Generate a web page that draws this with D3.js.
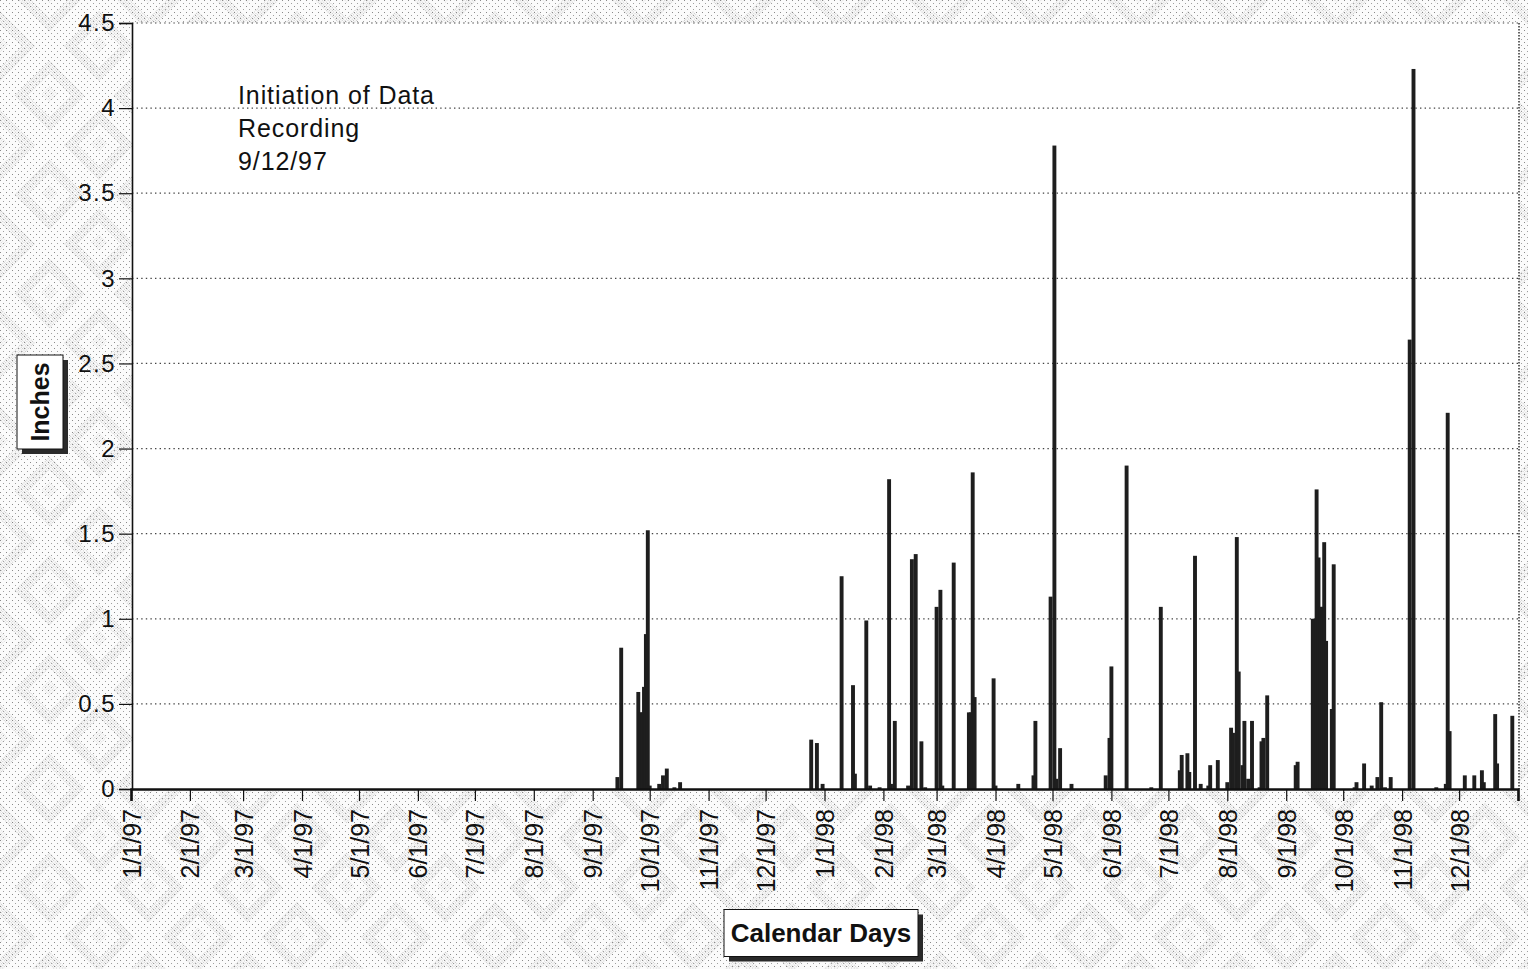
<!DOCTYPE html>
<html>
<head>
<meta charset="utf-8">
<script src="https://cdn.jsdelivr.net/npm/d3@7"></script>
<style>
  html, body { margin: 0; padding: 0; background: #fff; }
  svg { display: block; }
  text { font-family: "Liberation Sans", Arial, Helvetica, sans-serif; fill: #111; }
</style>
</head>
<body>
<svg id="chart" width="1528" height="969"></svg>
<script>
// ---------------- data ----------------
const dates = [
  "1997-09-14","1997-09-16","1997-09-25","1997-09-26","1997-09-27","1997-09-28","1997-09-29","1997-09-30",
  "1997-10-01","1997-10-06","1997-10-08","1997-10-10","1997-10-14","1997-10-17",
  "1997-12-25","1997-12-28","1997-12-31",
  "1998-01-10","1998-01-16","1998-01-17","1998-01-23","1998-01-25","1998-01-30",
  "1998-02-04","1998-02-05","1998-02-07","1998-02-14","1998-02-16","1998-02-18","1998-02-21","1998-02-23",
  "1998-03-01","1998-03-03","1998-03-04","1998-03-10","1998-03-18","1998-03-19","1998-03-20","1998-03-21","1998-03-31",
  "1998-04-01","1998-04-13","1998-04-21","1998-04-22","1998-04-30",
  "1998-05-02","1998-05-03","1998-05-05","1998-05-11","1998-05-29","1998-05-31",
  "1998-06-01","1998-06-09","1998-06-22","1998-06-27",
  "1998-07-07","1998-07-08","1998-07-11","1998-07-12","1998-07-15","1998-07-18","1998-07-22","1998-07-23","1998-07-27",
  "1998-08-01","1998-08-03","1998-08-04","1998-08-06","1998-08-07","1998-08-09","1998-08-10","1998-08-12","1998-08-14",
  "1998-08-18","1998-08-19","1998-08-20","1998-08-22",
  "1998-09-06","1998-09-07","1998-09-15","1998-09-16","1998-09-17","1998-09-18","1998-09-19","1998-09-20","1998-09-21",
  "1998-09-22","1998-09-25","1998-09-26",
  "1998-10-07","1998-10-08","1998-10-12","1998-10-16","1998-10-19","1998-10-21","1998-10-23","1998-10-26",
  "1998-11-05","1998-11-07","1998-11-19","1998-11-24","1998-11-25","1998-11-26",
  "1998-12-04","1998-12-09","1998-12-13","1998-12-14","1998-12-20","1998-12-21","1998-12-29"
];
const inches = [
  0.07,0.83,0.57,0.45,0.45,0.60,0.91,1.52,
  0.02,0.03,0.08,0.12,0.01,0.04,
  0.29,0.27,0.03,
  1.25,0.61,0.09,0.99,0.02,0.01,
  1.82,0.03,0.40,0.02,1.35,1.38,0.28,0.01,
  1.07,1.17,0.02,1.33,0.45,0.45,1.86,0.54,0.65,
  0.02,0.03,0.08,0.40,1.13,
  3.78,0.06,0.24,0.03,0.08,0.30,
  0.72,1.90,0.01,1.07,
  0.11,0.20,0.21,0.10,1.37,0.03,0.02,0.14,0.17,
  0.04,0.36,0.33,1.48,0.69,0.14,0.40,0.06,0.40,
  0.01,0.28,0.30,0.55,
  0.14,0.16,1.00,1.00,1.76,1.36,1.07,1.07,1.45,
  0.87,0.47,1.32,
  0.01,0.04,0.15,0.02,0.07,0.51,0.01,0.07,
  2.64,4.23,0.01,0.03,2.21,0.34,
  0.08,0.08,0.11,0.04,0.44,0.15,0.43
];
const monthTicks = [
  "1997-01-01","1997-02-01","1997-03-01","1997-04-01","1997-05-01","1997-06-01",
  "1997-07-01","1997-08-01","1997-09-01","1997-10-01","1997-11-01","1997-12-01",
  "1998-01-01","1998-02-01","1998-03-01","1998-04-01","1998-05-01","1998-06-01",
  "1998-07-01","1998-08-01","1998-09-01","1998-10-01","1998-11-01","1998-12-01","1999-01-01"
];
const tickLabels = [
  "1/1/97","2/1/97","3/1/97","4/1/97","5/1/97","6/1/97","7/1/97","8/1/97","9/1/97",
  "10/1/97","11/1/97","12/1/97","1/1/98","2/1/98","3/1/98","4/1/98","5/1/98","6/1/98",
  "7/1/98","8/1/98","9/1/98","10/1/98","11/1/98","12/1/98",""
];
const yTicks = [0, 0.5, 1, 1.5, 2, 2.5, 3, 3.5, 4, 4.5];
const yTickLabels = ["0","0.5","1","1.5","2","2.5","3","3.5","4","4.5"];
const noteLines = ["Initiation of Data", "Recording", "9/12/97"];
const yTitle = "Inches";
const xTitle = "Calendar Days";

// ---------------- layout ----------------
const parse = d3.timeParse("%Y-%m-%d");
const svg = d3.select("#chart");
const W = 1528, H = 969;
const plot = { left: 132, right: 1519, top: 23, bottom: 789 };

const x = d3.scaleTime()
  .domain([parse("1997-01-01"), parse("1999-01-01")])
  .range([131, 1518]);
const y = d3.scaleLinear().domain([0, 4.5]).range([plot.bottom, plot.top]);

// textured background
const defs = svg.append("defs");
const fine = defs.append("pattern").attr("id", "fine").attr("width", 6).attr("height", 6)
  .attr("patternUnits", "userSpaceOnUse");
fine.append("rect").attr("width", 6).attr("height", 6).attr("fill", "#fbfbfb");
fine.append("rect").attr("x", 0).attr("y", 0).attr("width", 1).attr("height", 1).attr("fill", "#8a8a8a");
fine.append("rect").attr("x", 3).attr("y", 3).attr("width", 1).attr("height", 1).attr("fill", "#a0a0a0");

const dense = defs.append("pattern").attr("id", "dense").attr("width", 2).attr("height", 2)
  .attr("patternUnits", "userSpaceOnUse");
dense.append("rect").attr("width", 1).attr("height", 1).attr("fill", "#666");

const diam = defs.append("pattern").attr("id", "diam").attr("width", 70).attr("height", 70)
  .attr("patternUnits", "userSpaceOnUse").attr("patternTransform", "rotate(45)");
diam.append("rect").attr("x", 12).attr("y", 12).attr("width", 40).attr("height", 40)
  .attr("fill", "none").attr("stroke", "url(#dense)").attr("stroke-width", 10).attr("opacity", 0.33);
diam.append("rect").attr("x", 26).attr("y", 26).attr("width", 12).attr("height", 12)
  .attr("fill", "url(#dense)").attr("opacity", 0.2);

svg.append("rect").attr("width", W).attr("height", H).attr("fill", "url(#fine)");
svg.append("rect").attr("width", W).attr("height", H).attr("fill", "url(#diam)");

// plot area
svg.append("rect")
  .attr("x", plot.left).attr("y", plot.top)
  .attr("width", plot.right - plot.left).attr("height", plot.bottom - plot.top)
  .attr("fill", "#fff");

// gridlines
svg.append("g").selectAll("line").data(yTicks.filter(d => d > 0)).join("line")
  .attr("x1", plot.left).attr("x2", plot.right)
  .attr("y1", d => y(d)).attr("y2", d => y(d))
  .attr("stroke", "#444").attr("stroke-width", 1.2).attr("stroke-dasharray", "1.4,3.2");

// right border (dotted)
svg.append("line")
  .attr("x1", plot.right).attr("x2", plot.right).attr("y1", plot.top).attr("y2", plot.bottom)
  .attr("stroke", "#333").attr("stroke-width", 1.5).attr("stroke-dasharray", "1.5,1.5");

// note text
const note = svg.append("text").attr("x", 238).attr("y", 104)
  .attr("font-size", 25).attr("letter-spacing", 0.9);
note.selectAll("tspan").data(noteLines).join("tspan")
  .attr("x", 238).attr("dy", (d, i) => i === 0 ? 0 : 33).text(d => d);

// bars
const barW = 3.9;
const data = dates.map((d, i) => ({ date: parse(d), v: inches[i] }));
svg.append("g").selectAll("rect").data(data).join("rect")
  .attr("x", d => x(d.date) - barW / 2)
  .attr("y", d => y(d.v))
  .attr("width", barW)
  .attr("height", d => y(0) - y(d.v))
  .attr("fill", "#1e1e1e");

// y axis
const yAxis = d3.axisLeft(y).tickValues(yTicks).tickSize(13).tickPadding(3)
  .tickFormat((d, i) => yTickLabels[i]);
const gy = svg.append("g").attr("transform", `translate(${plot.left},0)`).call(yAxis);
gy.select(".domain").attr("stroke", "#111").attr("stroke-width", 1.6);
gy.selectAll(".tick line").attr("stroke", "#111").attr("stroke-width", 1.2);
gy.selectAll(".tick text").attr("font-size", 24).attr("letter-spacing", 1.5)
  .attr("fill", "#111").style("font-family", "'Liberation Sans', Arial, sans-serif");

// x axis
const xAxis = d3.axisBottom(x).tickValues(monthTicks.map(parse)).tickSize(12)
  .tickFormat((d, i) => tickLabels[i]);
const gx = svg.append("g").attr("transform", `translate(0,${plot.bottom})`).call(xAxis);
gx.select(".domain").attr("stroke", "#111").attr("stroke-width", 2.6);
gx.selectAll(".tick line").attr("stroke", "#111").attr("stroke-width", 1.2);
gx.selectAll(".tick text")
  .attr("font-size", 25)
  .attr("fill", "#111")
  .style("font-family", "'Liberation Sans', Arial, sans-serif")
  .attr("text-anchor", "end")
  .attr("transform", "rotate(-90)")
  .attr("x", -20).attr("y", 0).attr("dy", "0.36em");

// title boxes
function labelBox(cx, cy, w, h, txt, rotate) {
  const g = svg.append("g");
  g.append("rect").attr("x", cx - w / 2 + 5).attr("y", cy - h / 2 + 5)
    .attr("width", w).attr("height", h).attr("fill", "#2a2a2a");
  g.append("rect").attr("x", cx - w / 2).attr("y", cy - h / 2)
    .attr("width", w).attr("height", h).attr("fill", "#fff")
    .attr("stroke", "#111").attr("stroke-width", 1);
  g.append("text").attr("x", 0).attr("y", 0)
    .attr("transform", `translate(${cx},${cy}) rotate(${rotate})`)
    .attr("text-anchor", "middle").attr("dy", "0.36em")
    .attr("font-size", rotate ? 25 : 26).attr("font-weight", "bold")
    .text(txt);
}
labelBox(40, 402, 46, 94, yTitle, -90);
labelBox(821, 933, 194, 47, xTitle, 0);
</script>
</body>
</html>
